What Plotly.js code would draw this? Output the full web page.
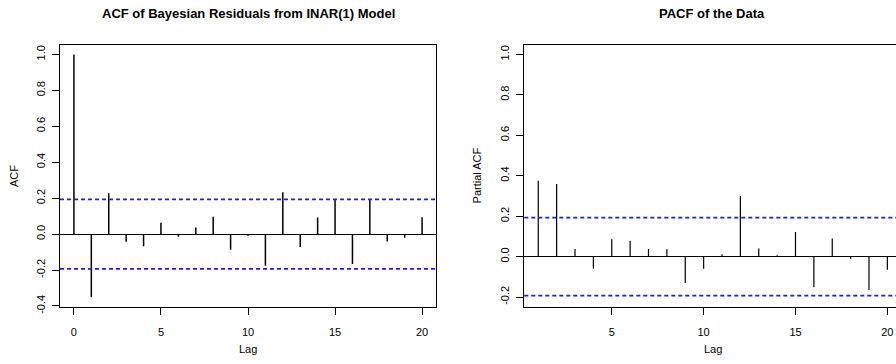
<!DOCTYPE html>
<html>
<head>
<meta charset="utf-8">
<script src="https://cdn.plot.ly/plotly-3.0.1.min.js"></script>
<style>html,body{margin:0;padding:0;background:#fff}#chart{width:896px;height:364px}</style>
</head>
<body>
<div id="chart"></div>
<script>
// ---- data ----
const acfLags = [0,1,2,3,4,5,6,7,8,9,10,11,12,13,14,15,16,17,18,19,20];
const acfValues = [1.0,-0.352,0.228,-0.043,-0.067,0.063,-0.015,0.037,0.096,-0.087,-0.009,-0.176,0.233,-0.072,0.093,0.194,-0.167,0.196,-0.041,-0.020,0.094];
const pacfLags = [1,2,3,4,5,6,7,8,9,10,11,12,13,14,15,16,17,18,19,20];
const pacfValues = [0.375,0.359,0.038,-0.060,0.086,0.078,0.038,0.036,-0.131,-0.060,0.012,0.299,0.040,0.007,0.122,-0.152,0.089,-0.012,-0.165,-0.065];
const confLimit = 0.193;
const xTickVals = [0,5,10,15,20];
const xTickText = ["0","5","10","15","20"];
const acfYTickVals = [-0.4,-0.2,0,0.2,0.4,0.6,0.8,1.0];
const acfYTickText = ["-0.4","-0.2","0.0","0.2","0.4","0.6","0.8","1.0"];
const pacfYTickVals = [-0.2,0,0.2,0.4,0.6,0.8,1.0];
const pacfYTickText = ["-0.2","0.0","0.2","0.4","0.6","0.8","1.0"];
const titles = ["ACF of Bayesian Residuals from INAR(1) Model","PACF of the Data"];
const yTitles = ["ACF","Partial ACF"];
const xTitle = "Lag";

// ---- build spikes ----
function spikes(lags, vals){
  const x=[], y=[];
  lags.forEach((l,i)=>{x.push(l,l,null); y.push(0,vals[i],null);});
  return {x,y};
}
const s1 = spikes(acfLags, acfValues);
const s2 = spikes(pacfLags, pacfValues);

const W=896, H=364;
const px = v => v/W;
const py = v => 1 - v/H;
const FONT = "Liberation Sans, Arial, Helvetica, sans-serif";

const traces = [
  {x:s1.x, y:s1.y, type:'scatter', mode:'lines', line:{color:'#000', width:1.5}, xaxis:'x', yaxis:'y', hoverinfo:'skip', showlegend:false},
  {x:s2.x, y:s2.y, type:'scatter', mode:'lines', line:{color:'#000', width:1.2}, xaxis:'x2', yaxis:'y2', hoverinfo:'skip', showlegend:false}
];

const axCommon = {
  showgrid:false, ticks:'outside', ticklen:7, tickwidth:1, tickcolor:'#000',
  showline:true, linecolor:'#000', linewidth:1,
  tickfont:{family:FONT, size:11, color:'#000'}
};
const yDom = [py(306.7), py(44.7)];

const dashLine = {color:'#1a1aff', width:1.8, dash:'4px,3px'};

const layout = {
  width:W, height:H,
  margin:{l:0,r:0,t:0,b:0},
  paper_bgcolor:'#fff', plot_bgcolor:'#fff',
  showlegend:false,
  xaxis: Object.assign({}, axCommon, {domain:[px(60), px(436)], range:[-0.8,20.8], tickmode:'array', tickvals:xTickVals, ticktext:xTickText, mirror:true, zeroline:false, anchor:'y', ticklabelstandoff:8}),
  yaxis: Object.assign({}, axCommon, {domain:yDom, range:[-0.404,1.054], tickmode:'array', tickvals:acfYTickVals, ticktext:acfYTickText, tickangle:-90, mirror:true, zeroline:true, zerolinecolor:'#000', zerolinewidth:1, anchor:'x', ticklabelstandoff:3}),
  xaxis2: Object.assign({}, axCommon, {domain:[px(524.3), 1], range:[0.24,20.47], tickmode:'array', tickvals:xTickVals, ticktext:xTickText, mirror:true, zeroline:false, anchor:'y2', ticklabelstandoff:8}),
  yaxis2: Object.assign({}, axCommon, {domain:yDom, range:[-0.248,1.048], tickmode:'array', tickvals:pacfYTickVals, ticktext:pacfYTickText, tickangle:-90, mirror:false, zeroline:true, zerolinecolor:'#000', zerolinewidth:1, anchor:'x2', ticklabelstandoff:3}),
  shapes: [
    {type:'line', xref:'x domain', yref:'y', x0:0, x1:1, y0:confLimit, y1:confLimit, line:dashLine},
    {type:'line', xref:'x domain', yref:'y', x0:0, x1:1, y0:-confLimit, y1:-confLimit, line:dashLine},
    {type:'line', xref:'x2 domain', yref:'y2', x0:0, x1:1, y0:confLimit, y1:confLimit, line:dashLine},
    {type:'line', xref:'x2 domain', yref:'y2', x0:0, x1:1, y0:-confLimit, y1:-confLimit, line:dashLine}
  ],
  annotations: [
    {text:'<b>'+titles[0]+'</b>', xref:'paper', yref:'paper', x:px(248), y:py(13.5), showarrow:false, xanchor:'center', yanchor:'middle', font:{family:FONT, size:13, color:'#000'}},
    {text:'<b>'+titles[1]+'</b>', xref:'paper', yref:'paper', x:px(712), y:py(13.5), showarrow:false, xanchor:'center', yanchor:'middle', font:{family:FONT, size:13, color:'#000'}},
    {text:xTitle, xref:'paper', yref:'paper', x:px(248), y:py(349), showarrow:false, xanchor:'center', yanchor:'middle', font:{family:FONT, size:11, color:'#000'}},
    {text:xTitle, xref:'paper', yref:'paper', x:px(712.8), y:py(349), showarrow:false, xanchor:'center', yanchor:'middle', font:{family:FONT, size:11, color:'#000'}},
    {text:yTitles[0], xref:'paper', yref:'paper', x:px(13.3), y:py(175.7), showarrow:false, textangle:-90, xanchor:'center', yanchor:'middle', font:{family:FONT, size:11, color:'#000'}},
    {text:yTitles[1], xref:'paper', yref:'paper', x:px(476.7), y:py(175.7), showarrow:false, textangle:-90, xanchor:'center', yanchor:'middle', font:{family:FONT, size:11, color:'#000'}}
  ]
};

Plotly.newPlot('chart', traces, layout, {staticPlot:true, displayModeBar:false});
</script>
</body>
</html>
